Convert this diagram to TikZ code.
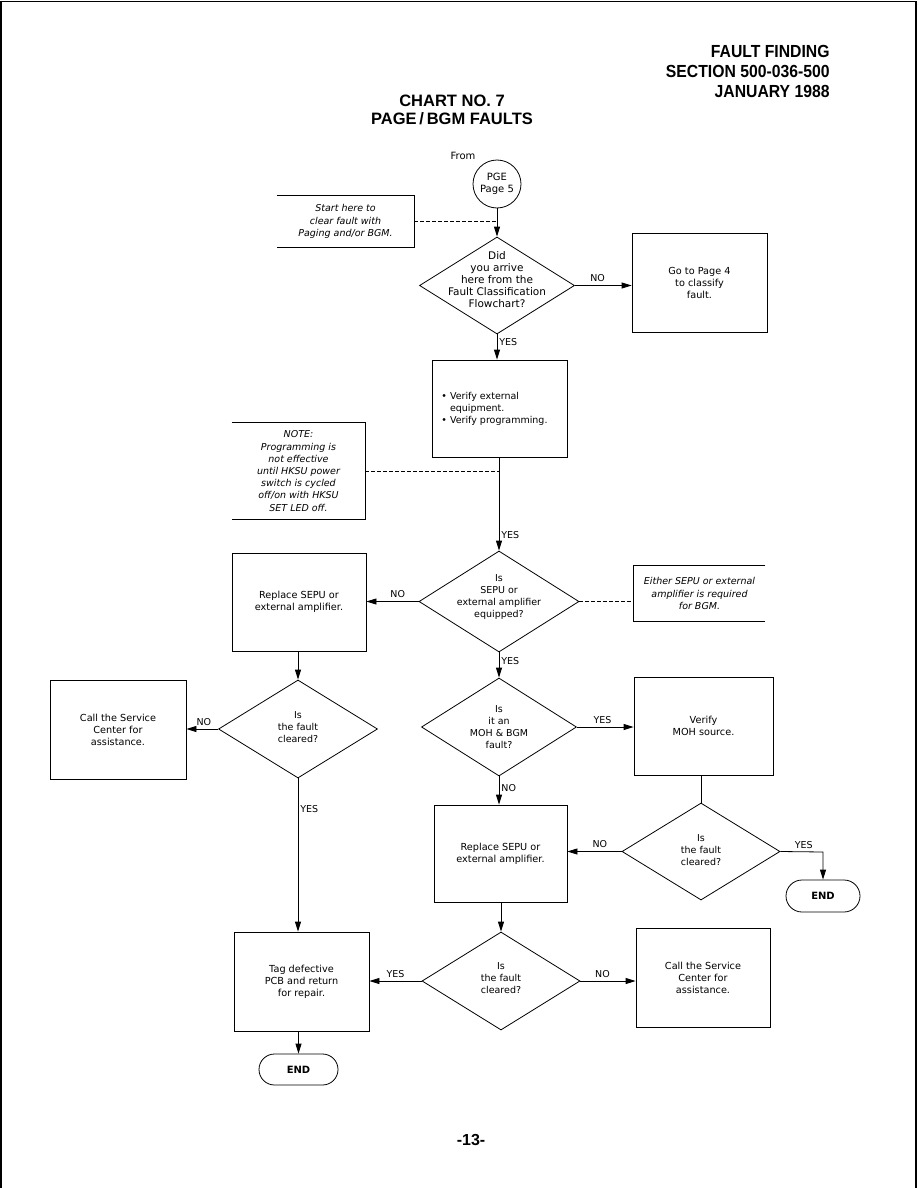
\documentclass[tikz,border=0pt]{standalone}
\usepackage{fontspec}
\setmainfont{DejaVu Sans}
\newfontfamily\hdrfont[FakeStretch=0.9]{Liberation Sans}
\newfontfamily\ttlfont{Liberation Sans}
\usetikzlibrary{shapes.geometric,shapes.misc,arrows.meta}
\begin{document}
\begin{tikzpicture}[x=1pt,y=-1pt,
  line width=0.8pt,
  >={Triangle[length=10pt,width=6pt]},
  txt/.style={font=\fontsize{9.5}{12}\selectfont, align=center, inner sep=0},
  box/.style={draw, rectangle, inner sep=0, font=\fontsize{9.7}{12}\selectfont, align=center},
  obox/.style={rectangle, inner sep=0, font=\fontsize{9.5}{12.2}\selectfont\itshape, align=center},
  dia/.style={draw, diamond, inner sep=0},
  term/.style={draw, rounded rectangle, inner sep=0, font=\fontsize{10}{12}\selectfont\bfseries},
  lbl/.style={font=\fontsize{9.5}{11}\selectfont, inner sep=0},
  lh/.style={lbl, above, yshift=3pt},
  lv/.style={lbl, right, xshift=2pt},
  dsh/.style={dash pattern=on 4pt off 2pt, line width=0.7pt}
]
\useasboundingbox (0,0) rectangle (918,1188);
% page frame
\draw[line width=1.2pt] (1,1188) -- (1,1.5) -- (916,1.5) -- (916,1188);

% header
\node[anchor=east, inner sep=0, font=\hdrfont\fontsize{17.5}{20}\selectfont\bfseries, align=right] (hdr) at (830,71)
  {FAULT FINDING\\SECTION 500-036-500\\JANUARY 1988};
\node[inner sep=0, font=\ttlfont\fontsize{16.5}{18}\selectfont\bfseries, align=center] (title) at (452,110)
  {CHART NO. 7\\PAGE\,/\,BGM FAULTS};

% From / circle
\node[lbl, font=\fontsize{10}{11}\selectfont] (from) at (463,156) {From};
\node[draw, circle, minimum size=48, inner sep=0, txt, font=\fontsize{10}{12}\selectfont] (pge) at (497,184) {PGE\\Page 5};

% start box (open left)
\node[obox, minimum width=137, minimum height=51] (start) at (345.5,221.5) {Start here to\\clear fault with\\Paging and/or BGM.};
\draw (start.north west) -- (start.north east) -- (start.south east) -- (start.south west);

% diamond 1
\node[dia, minimum width=155, minimum height=97] (d1) at (497,285.5) {};
\node[txt, font=\fontsize{10.5}{12}\selectfont, yshift=6pt] (d1t) at (d1) {Did\\you arrive\\here from the\\Fault Classification\\Flowchart?};
\node[box, minimum width=135, minimum height=99] (goto) at (699.5,282.5) {Go to Page 4\\to classify\\fault.};

% verify box
\node[box, minimum width=135, minimum height=97] (ver) at (499.5,408.5) {};
\node[txt, align=left, anchor=west] (vert) at (441,409) {\textbullet\ Verify external\\\hphantom{\textbullet\ }equipment.\\\textbullet\ Verify programming.};

% note box (open left)
\node[obox, minimum width=133, minimum height=96] (note) at (298.5,471) {NOTE:\\Programming is\\not effective\\until HKSU power\\switch is cycled\\off/on with HKSU\\SET LED off.};
\draw (note.north west) -- (note.north east) -- (note.south east) -- (note.south west);

% diamond 2
\node[dia, minimum width=160, minimum height=101] (d2) at (499,601.5) {};
\node[txt, yshift=4pt] (d2t) at (d2) {Is\\SEPU or\\external amplifier\\equipped?};
\node[box, minimum width=134, minimum height=98] (rep1) at (299,602) {Replace SEPU or\\external amplifier.};

% either box (open right)
\node[obox, minimum width=131, minimum height=55] (either) at (699.5,593.5) {Either SEPU or external\\amplifier is required\\for BGM.};
\draw (either.north east) -- (either.north west) -- (either.south west) -- (either.south east);

% diamond 6 (left)
\node[dia, minimum width=159, minimum height=98] (d6) at (298,729) {};
\node[txt, yshift=2pt] (d6t) at (d6) {Is\\the fault\\cleared?};
\node[box, minimum width=136, minimum height=99] (call1) at (118,729.5) {Call the Service\\Center for\\assistance.};

% diamond 3
\node[dia, minimum width=155, minimum height=98] (d3) at (499,727) {};
\node[txt] (d3t) at (d3) {Is\\it an\\MOH \& BGM\\fault?};
\node[box, minimum width=139, minimum height=98] (moh) at (703.5,726) {Verify\\MOH source.};

% replace 2
\node[box, minimum width=133, minimum height=97] (rep2) at (500.5,853.5) {Replace SEPU or\\external amplifier.};

% diamond 4
\node[dia, minimum width=158, minimum height=97] (d4) at (701,851.5) {};
\node[txt, yshift=1pt] (d4t) at (d4) {Is\\the fault\\cleared?};
\node[term, minimum width=74, minimum height=32] (end2) at (823,896) {END};
\coordinate (c4) at (823,852);

% diamond 5
\node[dia, minimum width=158, minimum height=98] (d5) at (501,981) {};
\node[txt, yshift=3pt] (d5t) at (d5) {Is\\the fault\\cleared?};
\node[box, minimum width=134, minimum height=99] (call2) at (703,977.5) {Call the Service\\Center for\\assistance.};
\node[box, minimum width=135, minimum height=99] (tag) at (301.5,981.5) {Tag defective\\PCB and return\\for repair.};
\node[term, minimum width=79, minimum height=31] (end1) at (298.5,1069.5) {END};

% footer
\node[inner sep=0, font=\ttlfont\fontsize{16}{16}\selectfont\bfseries] (foot) at (471,1140) {-13-};

% connectors
\draw[->] (pge) -- (d1.north);
\draw[dsh] (start.east) -- (start.east -| pge);
\draw[->] (d1.east) -- node[lh, pos=0.4] {NO} (goto.west |- d1.east);
\draw[->] (d1.south) -- node[lv, pos=0.3] {YES} (ver.north -| d1.south);
\draw[->] (ver.south -| d2.north) -- node[lv, pos=0.83] {YES} (d2.north);
\draw[dsh] (note.east) -- (note.east -| d2.north);
\draw[->] (d2.west) -- node[lh, pos=0.4] {NO} (rep1.east |- d2.west);
\draw[dsh] (d2.east) -- (either.west |- d2.east);
\draw[->] (d2.south) -- node[lv, pos=0.35] {YES} (d3.north);
\draw[->] (rep1.south -| d6.north) -- (d6.north);
\draw[->] (d6.west) -- node[lh, pos=0.45] {NO} (call1.east |- d6.west);
\draw[->] (d6.south) -- node[lv, pos=0.2] {YES} (tag.north -| d6.south);
\draw[->] (d3.east) -- node[lh, pos=0.45] {YES} (moh.west |- d3.east);
\draw[->] (d3.south) -- node[lv, pos=0.4] {NO} (rep2.north -| d3.south);
\draw (moh.south -| d4.north) -- (d4.north);
\draw[->] (d4.west) -- node[lh, pos=0.4] {NO} (rep2.east |- d4.west);
\draw[->] (d4.east) -- node[lh, pos=0.55] {YES} (c4) -- (end2.north);
\draw[->] (rep2.south -| d5.north) -- (d5.north);
\draw[->] (d5.east) -- node[lh, pos=0.4] {NO} (call2.west |- d5.east);
\draw[->] (d5.west) -- node[lh, pos=0.5] {YES} (tag.east |- d5.west);
\draw[->] (tag.south -| end1.north) -- (end1.north);
\end{tikzpicture}
\end{document}
